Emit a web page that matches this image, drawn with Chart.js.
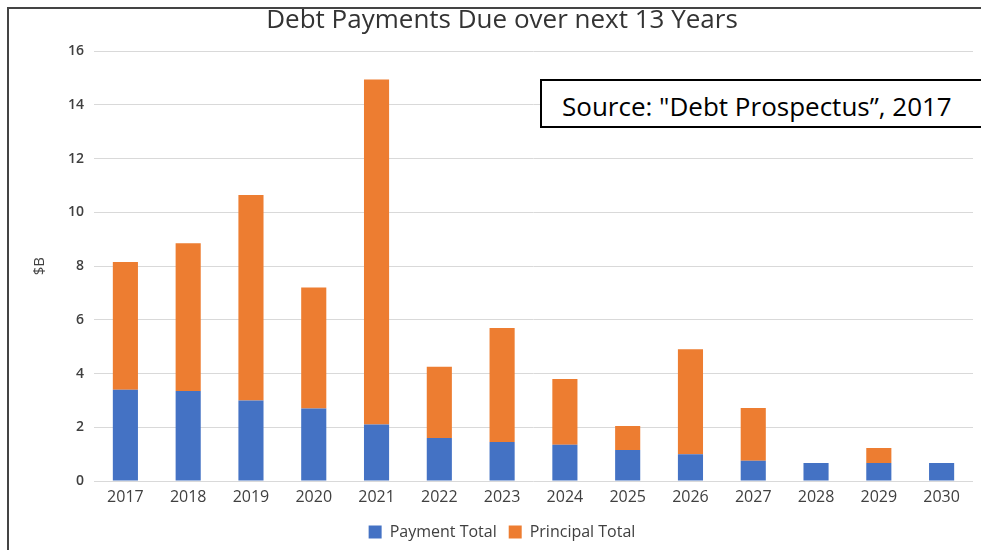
<!DOCTYPE html>
<html>
<head>
<meta charset="utf-8">
<title>Debt Payments Due over next 13 Years</title>
<script src="https://cdn.jsdelivr.net/npm/chart.js@4.4.1/dist/chart.umd.min.js"></script>
<style>
  html, body { margin: 0; padding: 0; background: #fff; }
  #wrap { position: relative; width: 981px; height: 550px; overflow: hidden; }
  #frame {
    position: absolute; left: 7px; top: 7px; right: 0; bottom: 0;
    border-left: 2px solid #444; border-top: 2px solid #444;
    pointer-events: none;
  }
  #source {
    position: absolute; left: 540px; top: 79px; width: 460px; height: 49px;
    border: 2px solid #000; border-right: none; background: #fff;
    font-family: "Open Sans", sans-serif; font-size: 26px; color: #000;
    line-height: 50px; padding-left: 20px; box-sizing: border-box;
    white-space: nowrap;
  }
  canvas { position: absolute; left: 0; top: 0; }
</style>
</head>
<body>
<div id="wrap">
  <canvas id="chart" width="981" height="550"></canvas>
  <div id="frame"></div>
  <div id="source">Source: "Debt Prospectus”, 2017</div>
</div>
<script>
// 年度與各年應付金額（十億美元）
const years = ['2017', '2018', '2019', '2020', '2021', '2022', '2023',
               '2024', '2025', '2026', '2027', '2028', '2029', '2030'];
const paymentTotal   = [3.4, 3.35, 3.0, 2.7, 2.1, 1.6, 1.45, 1.35, 1.15, 1.0, 0.75, 0.67, 0.67, 0.67];
const principalTotal = [4.75, 5.5, 7.65, 4.5, 12.85, 2.65, 4.25, 2.45, 0.9, 3.9, 1.97, 0, 0.56, 0];
const yTicks = [0, 2, 4, 6, 8, 10, 12, 14, 16];

const ctx = document.getElementById('chart').getContext('2d');

new Chart(ctx, {
  type: 'bar',
  data: {
    labels: years,
    datasets: [
      {
        label: 'Payment Total',
        data: paymentTotal,
        backgroundColor: '#4472C4'
      },
      {
        label: 'Principal Total',
        data: principalTotal,
        backgroundColor: '#ED7D31'
      }
    ]
  },
  options: {
    responsive: false,
    animation: false,
    devicePixelRatio: 1,
    layout: { padding: { left: 31, right: 8, top: 0, bottom: 0 } },
    datasets: {
      bar: { categoryPercentage: 1, barPercentage: 0.4 }
    },
    scales: {
      x: {
        stacked: true,
        afterFit: (scale) => { scale.height = 31; },
        grid: { display: false, drawTicks: false },
        border: { display: false },
        ticks: {
          color: '#404040',
          padding: 7,
          maxRotation: 0,
          font: { family: 'Open Sans', size: 16 }
        }
      },
      y: {
        stacked: true,
        min: 0,
        max: 16,
        afterBuildTicks: (scale) => {
          scale.ticks = yTicks.map(v => ({ value: v }));
        },
        afterFit: (scale) => { scale.width = 63; },
        grid: { color: '#d9d9d9', drawTicks: false },
        border: { display: false },
        ticks: {
          color: '#404040',
          padding: 10,
          font: { family: 'Open Sans', size: 14, weight: '600' }
        },
        title: {
          display: true,
          text: '$B',
          color: '#404040',
          padding: 0,
          font: { family: 'Open Sans', size: 15 }
        }
      }
    },
    plugins: {
      title: {
        display: true,
        text: 'Debt Payments Due over next 13 Years',
        color: '#333333',
        padding: { top: 5, bottom: 15 },
        font: { family: 'Open Sans', size: 26, weight: 'normal' }
      },
      legend: {
        position: 'bottom',
        labels: {
          color: '#404040',
          boxWidth: 13,
          boxHeight: 13,
          padding: 12,
          font: { family: 'Open Sans', size: 16 }
        }
      },
      tooltip: { enabled: false }
    }
  }
});
</script>
</body>
</html>
